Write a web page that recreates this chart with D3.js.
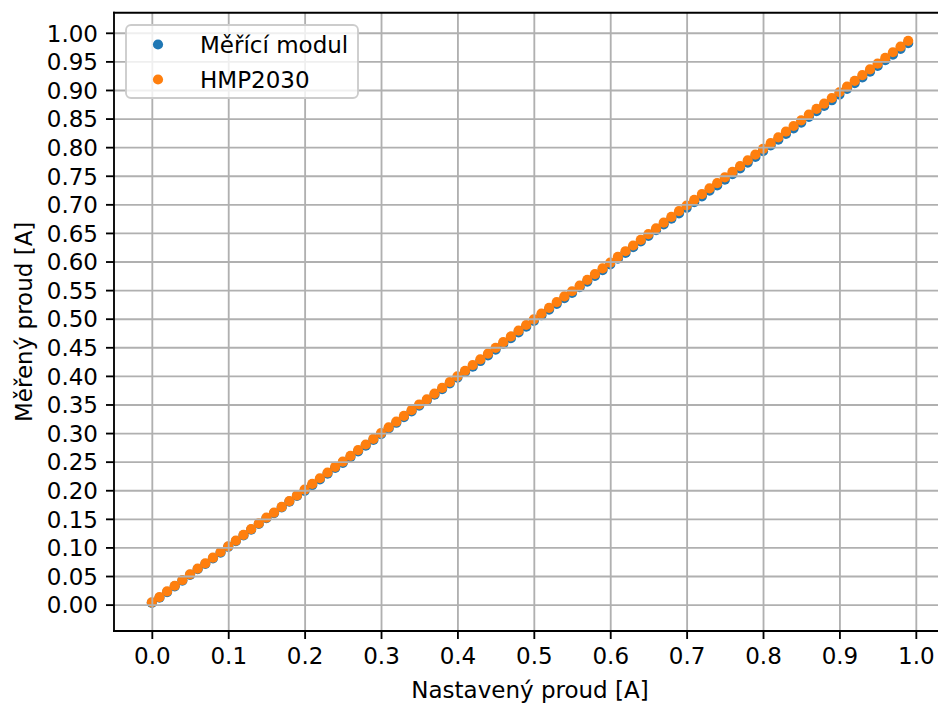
<!DOCTYPE html>
<html lang="cs">
<head>
<meta charset="utf-8">
<title>Měřený proud</title>
<script src="https://d3js.org/d3.v7.min.js"></script>
<style>
  html, body { margin: 0; padding: 0; background: #fff; }
  svg { display: block; font-family: "DejaVu Sans", sans-serif; }
</style>
</head>
<body>
<div id="chart"></div>
<script>
// nastavený proud [A]
const setCurrent = [
  0.00, 0.01, 0.02, 0.03, 0.04, 0.05, 0.06, 0.07, 0.08, 0.09,
  0.10, 0.11, 0.12, 0.13, 0.14, 0.15, 0.16, 0.17, 0.18, 0.19,
  0.20, 0.21, 0.22, 0.23, 0.24, 0.25, 0.26, 0.27, 0.28, 0.29,
  0.30, 0.31, 0.32, 0.33, 0.34, 0.35, 0.36, 0.37, 0.38, 0.39,
  0.40, 0.41, 0.42, 0.43, 0.44, 0.45, 0.46, 0.47, 0.48, 0.49,
  0.50, 0.51, 0.52, 0.53, 0.54, 0.55, 0.56, 0.57, 0.58, 0.59,
  0.60, 0.61, 0.62, 0.63, 0.64, 0.65, 0.66, 0.67, 0.68, 0.69,
  0.70, 0.71, 0.72, 0.73, 0.74, 0.75, 0.76, 0.77, 0.78, 0.79,
  0.80, 0.81, 0.82, 0.83, 0.84, 0.85, 0.86, 0.87, 0.88, 0.89,
  0.90, 0.91, 0.92, 0.93, 0.94, 0.95, 0.96, 0.97, 0.98, 0.99
];

// Měřící modul
const moduleCurrent = [
  0.003, 0.012, 0.022, 0.032, 0.042, 0.052, 0.062, 0.071, 0.081, 0.091,
  0.101, 0.111, 0.121, 0.131, 0.141, 0.151, 0.160, 0.170, 0.180, 0.190,
  0.199, 0.209, 0.219, 0.229, 0.239, 0.248, 0.258, 0.268, 0.278, 0.288,
  0.298, 0.308, 0.318, 0.328, 0.338, 0.348, 0.357, 0.367, 0.377, 0.387,
  0.397, 0.407, 0.416, 0.426, 0.436, 0.446, 0.456, 0.466, 0.476, 0.486,
  0.496, 0.506, 0.516, 0.526, 0.536, 0.545, 0.555, 0.565, 0.575, 0.585,
  0.595, 0.605, 0.615, 0.625, 0.635, 0.645, 0.655, 0.665, 0.675, 0.684,
  0.694, 0.704, 0.714, 0.724, 0.733, 0.743, 0.753, 0.763, 0.773, 0.783,
  0.793, 0.803, 0.813, 0.823, 0.833, 0.843, 0.853, 0.863, 0.872, 0.882,
  0.892, 0.902, 0.912, 0.922, 0.932, 0.942, 0.952, 0.962, 0.972, 0.982
];

// HMP2030
const hmpCurrent = [
  0.004, 0.013, 0.023, 0.033, 0.043, 0.053, 0.063, 0.072, 0.082, 0.092,
  0.102, 0.112, 0.122, 0.132, 0.142, 0.152, 0.161, 0.171, 0.181, 0.191,
  0.201, 0.211, 0.221, 0.231, 0.241, 0.250, 0.260, 0.270, 0.280, 0.290,
  0.300, 0.310, 0.320, 0.330, 0.340, 0.350, 0.359, 0.369, 0.379, 0.389,
  0.399, 0.409, 0.419, 0.429, 0.439, 0.449, 0.459, 0.469, 0.479, 0.489,
  0.499, 0.509, 0.519, 0.529, 0.539, 0.548, 0.558, 0.568, 0.578, 0.588,
  0.598, 0.608, 0.618, 0.628, 0.638, 0.648, 0.658, 0.668, 0.678, 0.688,
  0.698, 0.708, 0.718, 0.728, 0.737, 0.747, 0.757, 0.767, 0.777, 0.787,
  0.797, 0.807, 0.817, 0.827, 0.837, 0.847, 0.857, 0.867, 0.876, 0.886,
  0.896, 0.906, 0.916, 0.926, 0.936, 0.946, 0.956, 0.966, 0.976, 0.986
];

const seriesNames = ["Měřící modul", "HMP2030"];
const seriesColors = ["#1f77b4", "#ff7f0e"];

const xTicks = [0.0, 0.1, 0.2, 0.3, 0.4, 0.5, 0.6, 0.7, 0.8, 0.9, 1.0];
const xTickLabels = ["0.0", "0.1", "0.2", "0.3", "0.4", "0.5", "0.6", "0.7", "0.8", "0.9", "1.0"];
const yTicks = [0.00, 0.05, 0.10, 0.15, 0.20, 0.25, 0.30, 0.35, 0.40, 0.45, 0.50,
                0.55, 0.60, 0.65, 0.70, 0.75, 0.80, 0.85, 0.90, 0.95, 1.00];
const yTickLabels = yTicks.map(d => d.toFixed(2));

const xLabel = "Nastavený proud [A]";
const yLabel = "Měřený proud [A]";

const width = 938, height = 707;
const plot = {left: 114, right: 946, top: 12.7, bottom: 631};
const fontSize = 23;

// matplotlib-like 5 % margins around the data
const pad = (ext) => { const r = ext[1] - ext[0]; return [ext[0] - 0.05 * r, ext[1] + 0.05 * r]; };
const xExt = d3.extent(setCurrent);
const yExt = d3.extent(moduleCurrent.concat(hmpCurrent));

const x = d3.scaleLinear().domain(pad(xExt)).range([plot.left, plot.right]);
const y = d3.scaleLinear().domain(pad(yExt)).range([plot.bottom, plot.top]);

const svg = d3.select("#chart").append("svg")
    .attr("width", width)
    .attr("height", height)
    .attr("viewBox", [0, 0, width, height]);

svg.append("rect").attr("width", width).attr("height", height).attr("fill", "#fff");

svg.append("defs").append("clipPath").attr("id", "plot-clip")
  .append("rect")
    .attr("x", plot.left).attr("y", plot.top)
    .attr("width", plot.right - plot.left).attr("height", plot.bottom - plot.top);

// scatter (blue first, orange over it)
const series = [moduleCurrent, hmpCurrent];
const marks = svg.append("g").attr("clip-path", "url(#plot-clip)");
series.forEach((vals, i) => {
  marks.append("g")
    .selectAll("circle")
    .data(vals.map((v, j) => ({x: setCurrent[j], y: v})))
    .join("circle")
      .attr("cx", d => x(d.x))
      .attr("cy", d => y(d.y))
      .attr("r", 5.1)
      .attr("fill", seriesColors[i]);
});

// grid lines (drawn over the points, as in matplotlib)
const gridColor = "#b0b0b0";
const gridW = 1.85;
const grid = svg.append("g").attr("clip-path", "url(#plot-clip)");
grid.append("g")
  .attr("transform", `translate(0,${plot.bottom})`)
  .call(d3.axisBottom(x).tickValues(xTicks).tickSize(-(plot.bottom - plot.top)).tickFormat(""))
  .call(g => g.select(".domain").remove())
  .call(g => g.selectAll("line").attr("stroke", gridColor).attr("stroke-width", gridW));
grid.append("g")
  .attr("transform", `translate(${plot.left},0)`)
  .call(d3.axisLeft(y).tickValues(yTicks).tickSize(-(plot.right - plot.left)).tickFormat(""))
  .call(g => g.select(".domain").remove())
  .call(g => g.selectAll("line").attr("stroke", gridColor).attr("stroke-width", gridW));

// axes
const xAxis = svg.append("g")
    .attr("transform", `translate(0,${plot.bottom})`)
    .call(d3.axisBottom(x).tickValues(xTicks)
      .tickFormat((d, i) => xTickLabels[i]).tickSize(8).tickPadding(8).tickSizeOuter(0));
xAxis.select(".domain").remove();
xAxis.selectAll("line").attr("stroke", "#000").attr("stroke-width", 1.85);
xAxis.selectAll("text")
    .attr("font-family", "DejaVu Sans")
    .attr("font-size", fontSize)
    .attr("fill", "#000")
    .attr("dy", "0.74em");

const yAxis = svg.append("g")
    .attr("transform", `translate(${plot.left},0)`)
    .call(d3.axisLeft(y).tickValues(yTicks)
      .tickFormat((d, i) => yTickLabels[i]).tickSize(8).tickPadding(8).tickSizeOuter(0));
yAxis.select(".domain").remove();
yAxis.selectAll("line").attr("stroke", "#000").attr("stroke-width", 1.85);
yAxis.selectAll("text")
    .attr("font-family", "DejaVu Sans")
    .attr("font-size", fontSize)
    .attr("fill", "#000")
    .attr("dy", "0.36em");

// spines
const spine = {stroke: "#000", "stroke-width": 1.85, "stroke-linecap": "square"};
[[plot.left, plot.top, plot.left, plot.bottom],
 [plot.left, plot.bottom, plot.right, plot.bottom],
 [plot.left, plot.top, plot.right, plot.top],
 [plot.right, plot.top, plot.right, plot.bottom]].forEach(([x1, y1, x2, y2]) => {
  const l = svg.append("line").attr("x1", x1).attr("y1", y1).attr("x2", x2).attr("y2", y2);
  Object.entries(spine).forEach(([k, v]) => l.attr(k, v));
});

// axis labels
svg.append("text")
    .attr("x", (plot.left + plot.right) / 2)
    .attr("y", 698)
    .attr("text-anchor", "middle")
    .attr("font-size", fontSize)
    .text(xLabel);

svg.append("text")
    .attr("transform", `translate(32,${(plot.top + plot.bottom) / 2}) rotate(-90)`)
    .attr("text-anchor", "middle")
    .attr("font-size", fontSize)
    .text(yLabel);

// legend
const legend = svg.append("g");
legend.append("rect")
    .attr("x", 126).attr("y", 25)
    .attr("width", 232).attr("height", 73)
    .attr("rx", 5).attr("ry", 5)
    .attr("fill", "#fff").attr("fill-opacity", 0.8)
    .attr("stroke", "#cccccc").attr("stroke-width", 1.85);
seriesNames.forEach((name, i) => {
  const ly = 44.5 + i * 35;
  legend.append("circle")
      .attr("cx", 158).attr("cy", ly).attr("r", 5.1)
      .attr("fill", seriesColors[i]);
  legend.append("text")
      .attr("x", 200).attr("y", ly)
      .attr("dy", "0.36em")
      .attr("font-size", fontSize)
      .text(name);
});
</script>
</body>
</html>
